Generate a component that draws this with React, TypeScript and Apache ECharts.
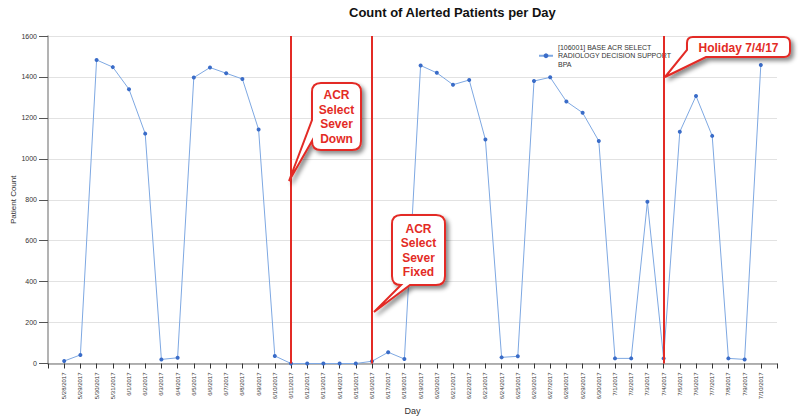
import React, { useEffect, useRef } from "react";
import * as echarts from "echarts";

const days: string[] = [
  "5/28/2017", "5/29/2017", "5/30/2017", "5/31/2017", "6/1/2017", "6/2/2017", "6/3/2017", "6/4/2017",
  "6/5/2017", "6/6/2017", "6/7/2017", "6/8/2017", "6/9/2017", "6/10/2017", "6/11/2017", "6/12/2017",
  "6/13/2017", "6/14/2017", "6/15/2017", "6/16/2017", "6/17/2017", "6/18/2017", "6/19/2017", "6/20/2017",
  "6/21/2017", "6/22/2017", "6/23/2017", "6/24/2017", "6/25/2017", "6/26/2017", "6/27/2017", "6/28/2017",
  "6/29/2017", "6/30/2017", "7/1/2017", "7/2/2017", "7/3/2017", "7/4/2017", "7/5/2017", "7/6/2017",
  "7/7/2017", "7/8/2017", "7/9/2017", "7/10/2017",
];

const patientCounts: number[] = [
  12, 42, 1483, 1448, 1340, 1123, 20, 28,
  1397, 1446, 1418, 1390, 1143, 37, 0, 0,
  0, 0, 0, 11, 55, 22, 1456, 1420,
  1362, 1385, 1094, 30, 35, 1380, 1398, 1280,
  1225, 1087, 25, 25, 790, 25, 1132, 1307,
  1112, 25, 20, 1458,
];

const eventDays: string[] = ["6/11/2017", "6/16/2017", "7/4/2017"];

const seriesName = "[106001] BASE ACR SELECT\nRADIOLOGY DECISION SUPPORT\nBPA";
const titleText = "Count of Alerted Patients per Day";
const yTicks = { min: 0, max: 1600, interval: 200 };

const RED = "#e32b25";
const FONT = "Liberation Sans, Arial, sans-serif";

function calloutPath(
  x: number, y: number, w: number, h: number, r: number,
  tail: { side: "left" | "bottom" | "bottomLeft"; a: number; b: number; tx: number; ty: number }
): string {
  const x2 = x + w, y2 = y + h;
  let d = `M${x + r} ${y} L${x2 - r} ${y} Q${x2} ${y} ${x2} ${y + r} L${x2} ${y2 - r} Q${x2} ${y2} ${x2 - r} ${y2} `;
  if (tail.side === "bottom") {
    d += `L${tail.b} ${y2} L${tail.tx} ${tail.ty} L${tail.a} ${y2} L${x + r} ${y2} Q${x} ${y2} ${x} ${y2 - r} L${x} ${y + r} Q${x} ${y} ${x + r} ${y} Z`;
  } else if (tail.side === "left") {
    d += `L${x + r} ${y2} Q${x} ${y2} ${x} ${y2 - r} L${x} ${tail.b} L${tail.tx} ${tail.ty} L${x} ${tail.a} L${x} ${y + r} Q${x} ${y} ${x + r} ${y} Z`;
  } else {
    d += `L${tail.b} ${y2} L${tail.tx} ${tail.ty} L${x} ${tail.a} L${x} ${y + r} Q${x} ${y} ${x + r} ${y} Z`;
  }
  return d;
}

function pathShape(name: string, d: string) {
  echarts.graphic.registerShape(name, echarts.graphic.extendPath(d as any, {}) as any);
}

const shadow = {
  shadowColor: "rgba(0,0,0,0.45)",
  shadowBlur: 4,
  shadowOffsetX: 3,
  shadowOffsetY: 3,
};

export default function App() {
  const ref = useRef<HTMLDivElement>(null);
  useEffect(() => {
    if (!ref.current) return;
    pathShape("callout1", calloutPath(312, 83, 49, 67, 9, { side: "left", a: 120, b: 141, tx: 289, ty: 181 }));
    pathShape("callout2", calloutPath(392, 215, 53, 70, 9, { side: "bottom", a: 401, b: 410, tx: 374, ty: 312 }));
    pathShape("callout3", calloutPath(687, 37, 103, 20, 6, { side: "bottomLeft", a: 50, b: 706, tx: 665, ty: 77 }));

    const chart = echarts.init(ref.current, null, { renderer: "svg" });
    const axisCats = ["", ...days, ""];
    const axisData = [null, ...patientCounts, null];

    const calloutText = (x: number, y: number, text: string, lh: number) => ({
      type: "text",
      x,
      y,
      z: 101,
      style: {
        text,
        fill: RED,
        font: `bold 12px ${FONT}`,
        textAlign: "center",
        textVerticalAlign: "middle",
        lineHeight: lh,
      },
    });

    chart.setOption({
      animation: false,
      backgroundColor: "#ffffff",
      title: {
        text: titleText,
        left: 344,
        top: 1,
        textStyle: { fontFamily: FONT, fontSize: 13, fontWeight: "bold", color: "#111" },
      },
      legend: {
        left: 533,
        top: 38,
        itemWidth: 14,
        itemHeight: 6,
        textStyle: { fontFamily: FONT, fontSize: 7, lineHeight: 8.5, color: "#333" },
        data: [seriesName],
      },
      grid: { left: 48, right: 23, top: 36, bottom: 55.5, containLabel: false, outerBoundsMode: "none" },
      xAxis: {
        type: "category",
        data: axisCats,
        boundaryGap: false,
        name: "Day",
        nameLocation: "middle",
        nameGap: 43,
        nameMoveOverlap: false,
        nameTextStyle: { fontFamily: FONT, fontSize: 9, color: "#333" },
        axisLine: { lineStyle: { color: "#9a9a9a", width: 1.5 } },
        axisTick: { show: true, length: 5, interval: 0, lineStyle: { color: "#333" } },
        axisLabel: {
          interval: 0,
          rotate: 90,
          margin: 9,
          fontFamily: FONT,
          fontSize: 6,
          color: "#333",
        },
        splitLine: { show: false },
      },
      yAxis: {
        type: "value",
        min: yTicks.min,
        max: yTicks.max,
        interval: yTicks.interval,
        name: "Patient Count",
        nameLocation: "middle",
        nameRotate: 90,
        nameGap: 31,
        nameMoveOverlap: false,
        nameTextStyle: { fontFamily: FONT, fontSize: 8, color: "#333" },
        axisLine: { show: true, lineStyle: { color: "#9a9a9a", width: 1.5 } },
        axisTick: { show: true, length: 9, lineStyle: { color: "#555" } },
        axisLabel: {
          fontFamily: FONT,
          fontSize: 7,
          color: "#333",
          margin: 11,
          formatter: (v: number) => String(v),
        },
        splitLine: { show: true, lineStyle: { color: "#e2e2e2", width: 1 } },
      },
      series: [
        {
          name: seriesName,
          type: "line",
          data: axisData,
          connectNulls: false,
          symbol: "circle",
          symbolSize: 4,
          showSymbol: true,
          lineStyle: { color: "#7ea8e2", width: 1 },
          itemStyle: { color: "#3a6cc8" },
          z: 2,
          markLine: {
            silent: true,
            symbol: "none",
            label: { show: false },
            lineStyle: { color: RED, width: 2, type: "solid" },
            data: eventDays.map((d) => ({ xAxis: d })),
            z: 5,
          },
        },
      ],
      graphic: [
        { type: "callout1", z: 100, shape: {}, style: { fill: "#fff", stroke: RED, lineWidth: 2, ...shadow } },
        { type: "callout2", z: 100, shape: {}, style: { fill: "#fff", stroke: RED, lineWidth: 2, ...shadow } },
        { type: "callout3", z: 100, shape: {}, style: { fill: "#fff", stroke: RED, lineWidth: 2, ...shadow } },
        calloutText(336.5, 117, "ACR\nSelect\nSever\nDown", 14.5),
        calloutText(418.5, 250.5, "ACR\nSelect\nSever\nFixed", 14.5),
        calloutText(738.5, 47.5, "Holiday 7/4/17", 14),
      ],
    } as any);
    return () => chart.dispose();
  }, []);
  return <div ref={ref} style={{ width: 800, height: 419, position: "absolute", left: 0, top: 0 }} />;
}
